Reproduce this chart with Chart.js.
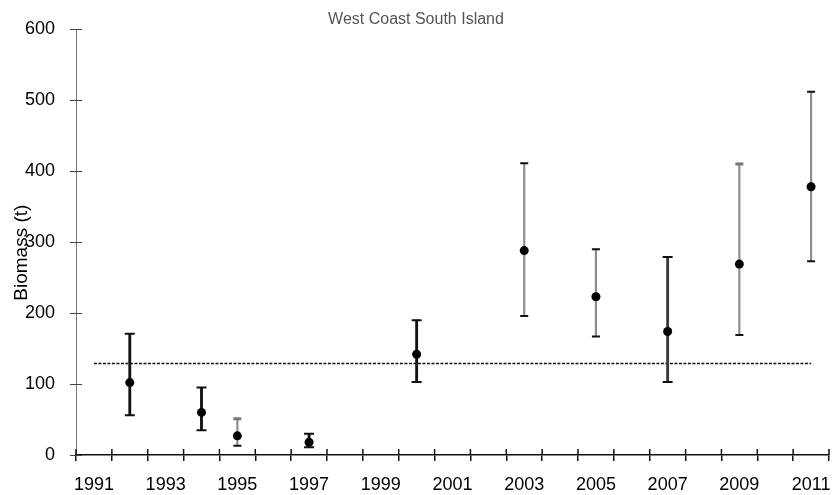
<!DOCTYPE html>
<html>
<head>
<meta charset="utf-8">
<script src="https://cdn.jsdelivr.net/npm/chart.js@4.4.1/dist/chart.umd.min.js"></script>
<style>
  html, body { margin: 0; padding: 0; background: #fff; overflow: hidden; }
  #wrap { position: relative; width: 835px; height: 505px; }
</style>
</head>
<body>
<div id="wrap"><canvas id="chart"></canvas></div>
<script>
// ---------------- DATA ----------------
const years = ["1991", "1992", "1993", "1994", "1995", "1996", "1997", "1998", "1999", "2000",
  "2001", "2002", "2003", "2004", "2005", "2006", "2007", "2008", "2009", "2010", "2011"];
const surveyYears = ["1992", "1994", "1995", "1997", "2000", "2003", "2005", "2007", "2009", "2011"];
const biomass = [102, 60, 27, 18, 142, 288, 223, 174, 269, 378];
const lowerCI = [56, 35, 13, 11, 103, 196, 167, 103, 169, 273];
const upperCI = [171, 95, 51, 30, 190, 411, 290, 279, 410, 512];
const refLevel = 129;
const yTicks = [0, 100, 200, 300, 400, 500, 600];

// which surveys get the heavy black bars (the rest are thin grey)
const darkBars = ["1992", "1994", "1997", "2000", "2007"];

// spread survey values over the full year axis (null where no survey)
function onYears(values, keep) {
  return years.map(yr => {
    const i = surveyYears.indexOf(yr);
    if (i < 0) return null;
    if (keep && !keep(yr)) return null;
    return values[i];
  });
}

const ranges = surveyYears.map((yr, i) => [lowerCI[i], upperCI[i]]);
const isDark = yr => darkBars.includes(yr);

// ---------------- TICKS THAT CROSS THE AXES ----------------
const crossTicks = {
  id: "crossTicks",
  afterDraw(chart) {
    const { ctx, chartArea, scales: { x, y } } = chart;
    ctx.save();
    ctx.strokeStyle = "#444";
    ctx.lineWidth = 1;
    ctx.beginPath();
    y.ticks.forEach(t => {
      const py = Math.round(y.getPixelForValue(t.value)) + 0.5;
      ctx.moveTo(chartArea.left, py);
      ctx.lineTo(chartArea.left + 6, py);
    });
    ctx.stroke();

    ctx.strokeStyle = "#111";
    ctx.lineWidth = 1.5;
    ctx.beginPath();
    const step = x.width / x.ticks.length;
    for (let i = 0; i <= x.ticks.length; i++) {
      const px = x.left + i * step;
      ctx.moveTo(px, chartArea.bottom);
      ctx.lineTo(px, chartArea.bottom - 6);
    }
    ctx.stroke();
    ctx.restore();
  }
};

// ---------------- CHART ----------------
const font = "'Liberation Sans', Arial, sans-serif";
const ctx = document.getElementById("chart").getContext("2d");

new Chart(ctx, {
  type: "bar",
  data: {
    labels: years,
    datasets: [
      {
        type: "line",
        label: "Biomass",
        data: onYears(biomass),
        showLine: false,
        pointRadius: 4.5,
        pointBackgroundColor: "#000",
        pointBorderWidth: 0,
        order: 0
      },
      {
        type: "line",
        label: "Upper",
        data: onYears(upperCI),
        showLine: false,
        pointStyle: "line",
        pointRadius: c => isDark(years[c.dataIndex]) ? 5 : 4,
        pointBorderWidth: c => (years[c.dataIndex] === "1995" || years[c.dataIndex] === "2009") ? 3 : 2,
        pointBorderColor: c => (years[c.dataIndex] === "1995" || years[c.dataIndex] === "2009") ? "#777" : "#111",
        order: 1
      },
      {
        type: "line",
        label: "Lower",
        data: onYears(lowerCI),
        showLine: false,
        pointStyle: "line",
        pointRadius: c => isDark(years[c.dataIndex]) ? 5 : 4,
        pointBorderWidth: 2,
        pointBorderColor: "#111",
        order: 1
      },
      {
        label: "CI dark",
        data: onYears(ranges, isDark),
        barThickness: 2.2,
        grouped: false,
        backgroundColor: c => years[c.dataIndex] === "2007" ? "#3a3a3a" : "#111",
        order: 2
      },
      {
        label: "CI light",
        data: onYears(ranges, yr => !isDark(yr)),
        barThickness: 1.5,
        grouped: false,
        backgroundColor: "#8c8c8c",
        order: 2
      },
      {
        type: "line",
        label: "Reference",
        data: years.map(() => refLevel),
        borderColor: "#111",
        borderWidth: 1.4,
        borderDash: [3, 1.5],
        pointRadius: 0,
        order: 3
      }
    ]
  },
  options: {
    responsive: true,
    maintainAspectRatio: false,
    animation: false,
    layout: { padding: { left: 0, right: 3, top: 0, bottom: 0 } },
    plugins: {
      legend: { display: false },
      tooltip: { enabled: false },
      title: {
        display: true,
        text: "West Coast South Island",
        color: "#555",
        font: { family: font, size: 16, weight: "normal" },
        padding: { top: 10, bottom: 0 }
      }
    },
    scales: {
      x: {
        type: "category",
        offset: true,
        grid: { offset: true, drawOnChartArea: false, tickLength: 6, color: "#111", lineWidth: 1.5 },
        border: { color: "#111", width: 1.5 },
        ticks: {
          autoSkip: false,
          maxRotation: 0,
          padding: 13,
          color: "#000",
          font: { family: font, size: 18 },
          callback: (v, i) => i % 2 === 0 ? years[i] : ""
        },
        afterFit: s => { s.height = 50; s.paddingLeft = 0; s.paddingRight = 0; }
      },
      y: {
        min: 0,
        max: 600,
        afterBuildTicks: s => { s.ticks = yTicks.map(v => ({ value: v })); },
        grid: { drawOnChartArea: false, tickLength: 6, color: "#444" },
        border: { color: "#777", width: 1 },
        ticks: {
          padding: 15,
          color: "#000",
          font: { family: font, size: 18 }
        },
        title: {
          display: true,
          text: "Biomass (t)    ",
          color: "#000",
          font: { family: font, size: 19 },
          padding: { top: 10, bottom: 0 }
        },
        afterFit: s => { s.width = 76; }
      }
    }
  },
  plugins: [crossTicks]
});
</script>
</body>
</html>
